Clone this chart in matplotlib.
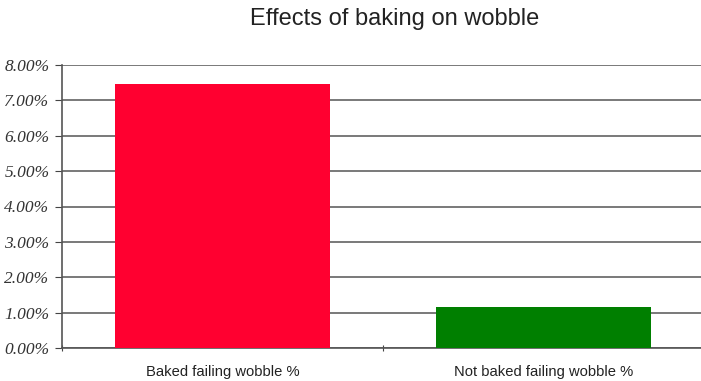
import matplotlib.pyplot as plt
from matplotlib.ticker import FuncFormatter

categories = ["Baked failing wobble %", "Not baked failing wobble %"]
values = [7.47, 1.16]
colors = ["#FF0030", "#007F00"]
y_ticks = [0, 1, 2, 3, 4, 5, 6, 7, 8]

fig = plt.figure(figsize=(7.01, 3.81), dpi=100)
ax = fig.add_axes([62 / 701, 33 / 381, 642 / 701, 283 / 381])

x = range(len(categories))
ax.bar(x, values, width=0.667, color=colors, zorder=3)

ax.set_xlim(-0.5, 1.5)
ax.set_ylim(0, 8)
ax.set_yticks(y_ticks)
ax.yaxis.set_major_formatter(FuncFormatter(lambda v, p: f"{v:.2f}%"))
for lab in ax.get_yticklabels():
    lab.set_fontfamily("Liberation Serif")
    lab.set_fontstyle("italic")
    lab.set_fontsize(12.5)
    lab.set_color("#333333")

ax.set_xticks([-0.5, 0.5, 1.5])
ax.set_xticklabels([])
ax.set_xticks(list(x), minor=True)
ax.set_xticklabels(categories, minor=True, fontfamily="Liberation Sans", fontsize=10.6,
                   color="#222222")
ax.tick_params(axis="x", which="minor", length=0, pad=12)
ax.tick_params(axis="x", which="major", length=5, direction="inout", color="#444444")
ax.tick_params(axis="y", length=5, direction="out", color="#444444", pad=4)

ax.grid(axis="y", color="#555555", linewidth=1.1, zorder=0)
for side in ["top", "right"]:
    ax.spines[side].set_visible(False)
for side in ["left", "bottom"]:
    ax.spines[side].set_color("#555555")
    ax.spines[side].set_linewidth(1.2)

fig.text(0.563, 0.95, "Effects of baking on wobble", ha="center", va="center",
         fontfamily="Liberation Sans", fontsize=17, color="#222222")

fig.savefig("out.png", dpi=100)
